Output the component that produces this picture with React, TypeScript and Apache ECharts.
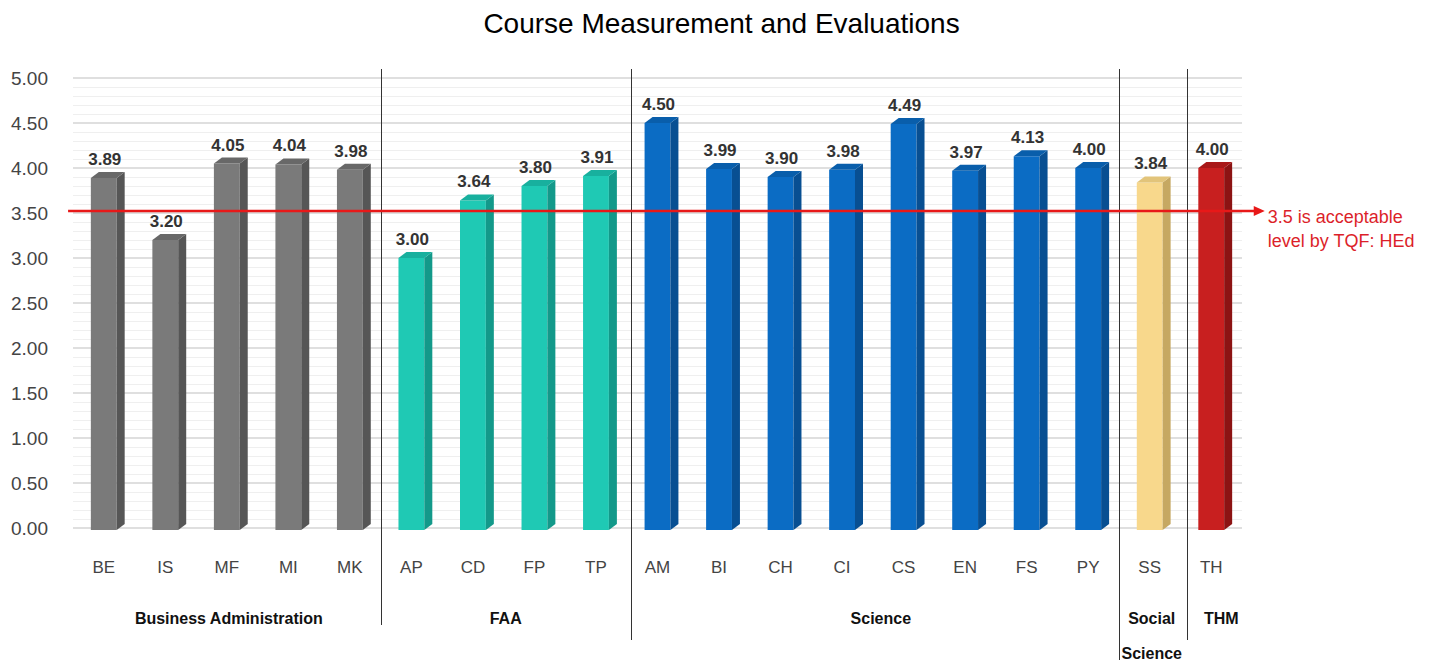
import React, { useEffect, useRef } from "react";
import * as echarts from "echarts";

const title = "Course Measurement and Evaluations";
const categories = ["BE", "IS", "MF", "MI", "MK", "AP", "CD", "FP", "TP", "AM", "BI", "CH", "CI", "CS", "EN", "FS", "PY", "SS", "TH"];
const values = [3.89, 3.2, 4.05, 4.04, 3.98, 3.0, 3.64, 3.8, 3.91, 4.5, 3.99, 3.9, 3.98, 4.49, 3.97, 4.13, 4.0, 3.84, 4.0];
const groupNames = ["Business Administration", "FAA", "Science", "Social\nScience", "THM"];
const groupSizes = [5, 4, 8, 1, 1];
const groupDividers = [4.5, 8.57, 16.5, 17.61];
const dividerBottoms = [625, 640, 660, 640];
const thresholdValue = 3.5;
const thresholdText = "3.5 is acceptable\nlevel by TQF: HEd";
const yMin = 0;
const yMax = 5;
const yInterval = 0.5;

const groupColors = [
  { front: "#7a7a7a", side: "#565656", top: "#686868" },
  { front: "#1fc9b4", side: "#13998a", top: "#18b09e" },
  { front: "#0b6cc4", side: "#084f92", top: "#095eab" },
  { front: "#f8d88c", side: "#c6a862", top: "#e2c47a" },
  { front: "#c81f1f", side: "#8c1313", top: "#a91818" },
];

const FONT = "Arial, 'Liberation Sans', sans-serif";

function groupOf(i: number): number {
  let acc = 0;
  for (let g = 0; g < groupSizes.length; g++) {
    acc += groupSizes[g];
    if (i < acc) return g;
  }
  return groupSizes.length - 1;
}

export default function App() {
  const ref = useRef<HTMLDivElement>(null);
  useEffect(() => {
    if (!ref.current) return;
    const chart = echarts.init(ref.current, null, { renderer: "svg" });
    const data = values.map((v, i) => [i, v]);
    chart.setOption({
      animation: false,
      backgroundColor: "#ffffff",
      title: {
        text: title,
        left: "center",
        top: 4,
        textStyle: { fontFamily: FONT, fontSize: 28, fontWeight: "normal", color: "#000" },
      },
      grid: { left: 73, right: 201, top: 78, bottom: 140, containLabel: false },
      xAxis: {
        type: "category",
        data: categories,
        axisLine: { show: false },
        axisTick: { show: false },
        axisLabel: { margin: 31, fontFamily: FONT, fontSize: 17, color: "#444" },
        splitLine: { show: false },
      },
      yAxis: {
        type: "value",
        min: yMin,
        max: yMax,
        interval: yInterval,
        axisLine: { show: false },
        axisTick: { show: false },
        axisLabel: {
          margin: 25,
          fontFamily: FONT,
          fontSize: 19,
          color: "#444",
          formatter: (v: number) => v.toFixed(2),
        },
        splitLine: { show: true, lineStyle: { color: "#d4d4d4", width: 1.5 } },
        minorTick: { show: false, splitNumber: 5 },
        minorSplitLine: { show: true, lineStyle: { color: "#efefef", width: 1 } },
      },
      series: [
        {
          type: "custom",
          data,
          encode: { x: 0, y: 1 },
          renderItem: (params: any, api: any) => {
            const i = api.value(0);
            const v = api.value(1);
            const top = api.coord([i, v]);
            const base = api.coord([i, 0]);
            const bw = api.size([1, 0])[0];
            const w = bw * 0.42;
            const d = bw * 0.13;
            const h = 6;
            const cx = top[0];
            const x0 = cx - w / 2;
            const x1 = cx + w / 2;
            const ty = top[1];
            const by = base[1] + 2;
            const c = groupColors[groupOf(i)];
            return {
              type: "group",
              children: [
                { type: "rect", shape: { x: x0, y: ty, width: w, height: by - ty }, style: { fill: c.front } },
                {
                  type: "polygon",
                  shape: { points: [[x1, ty], [x1 + d, ty - h], [x1 + d, by - h], [x1, by]] },
                  style: { fill: c.side },
                },
                {
                  type: "polygon",
                  shape: { points: [[x0, ty], [x0 + d, ty - h], [x1 + d, ty - h], [x1, ty]] },
                  style: { fill: c.top },
                },
                {
                  type: "text",
                  x: cx + 1,
                  y: ty - h - 4,
                  style: {
                    text: v.toFixed(2),
                    fill: "#333",
                    fontFamily: FONT,
                    fontSize: 17,
                    fontWeight: "bold",
                    align: "center",
                    verticalAlign: "bottom",
                  },
                },
              ],
            };
          },
        },
      ],
    });

    const p0 = chart.convertToPixel({ xAxisIndex: 0 }, 0) as number;
    const p1 = chart.convertToPixel({ xAxisIndex: 0 }, 1) as number;
    const px = (idx: number) => p0 + idx * (p1 - p0);
    const gridTop = chart.convertToPixel({ yAxisIndex: 0 }, yMax) as number;
    const ty = (chart.convertToPixel({ yAxisIndex: 0 }, thresholdValue) as number) - 2;
    const lineStart = px(-0.58);
    const lineEnd = px(18.87);

    const graphics: any[] = [];
    groupDividers.forEach((g, k) => {
      const x = Math.round(px(g)) + 0.5;
      graphics.push({
        type: "line",
        shape: { x1: x, y1: gridTop - 9, x2: x, y2: dividerBottoms[k] },
        style: { stroke: "#333", lineWidth: 1 },
        silent: true,
      });
    });
    let start = 0;
    groupNames.forEach((name, g) => {
      const center = start + (groupSizes[g] - 1) / 2;
      start += groupSizes[g];
      const x = px(center) + (g === 2 ? 8 : g === 4 ? 10 : 2);
      graphics.push({
        type: "text",
        x,
        y: 601,
        style: {
          text: name,
          fill: "#111",
          fontFamily: FONT,
          fontSize: 16,
          fontWeight: "bold",
          align: "center",
          verticalAlign: "top",
          lineHeight: 35,
        },
      });
    });
    graphics.push({
      type: "line",
      shape: { x1: lineStart, y1: ty, x2: lineEnd - 8, y2: ty },
      style: { stroke: "#e81818", lineWidth: 2.5 },
      z: 100,
    });
    graphics.push({
      type: "polygon",
      shape: { points: [[lineEnd - 11, ty - 5], [lineEnd, ty], [lineEnd - 11, ty + 5]] },
      style: { fill: "#e81818" },
      z: 100,
    });
    graphics.push({
      type: "text",
      x: lineEnd + 3,
      y: ty - 6,
      style: {
        text: thresholdText,
        fill: "#dc1f2a",
        fontFamily: FONT,
        fontSize: 18,
        fontWeight: "normal",
        align: "left",
        verticalAlign: "top",
        lineHeight: 24,
      },
      z: 100,
    });
    chart.setOption({ graphic: graphics });

    return () => chart.dispose();
  }, []);
  return <div ref={ref} style={{ position: "fixed", left: 0, top: 0, width: 1443, height: 668 }} />;
}
